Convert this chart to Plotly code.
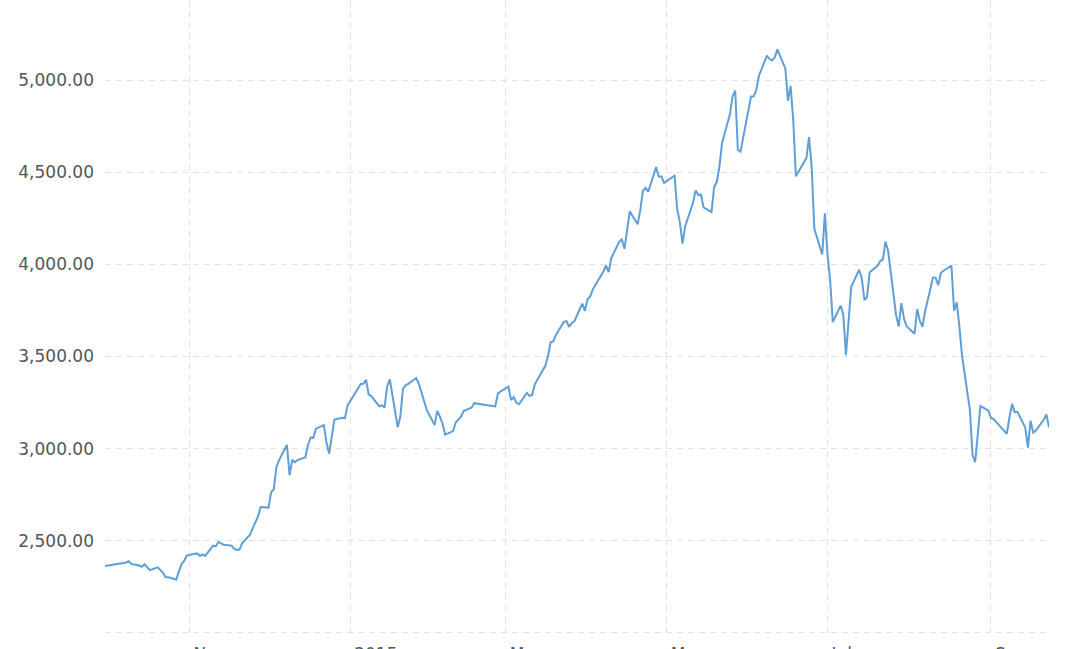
import plotly.graph_objects as go

dates = [
    "2014-09-30",
    "2014-10-08", "2014-10-09", "2014-10-10", "2014-10-13", "2014-10-14", "2014-10-15", "2014-10-16",
    "2014-10-17", "2014-10-20", "2014-10-21", "2014-10-22", "2014-10-23", "2014-10-24", "2014-10-27",
    "2014-10-28", "2014-10-29", "2014-10-30", "2014-10-31",
    "2014-11-03", "2014-11-04", "2014-11-05", "2014-11-06", "2014-11-07", "2014-11-10", "2014-11-11",
    "2014-11-12", "2014-11-13", "2014-11-14", "2014-11-17", "2014-11-18", "2014-11-19", "2014-11-20",
    "2014-11-21", "2014-11-24", "2014-11-25", "2014-11-26", "2014-11-27", "2014-11-28",
    "2014-12-01", "2014-12-02", "2014-12-03", "2014-12-04", "2014-12-05", "2014-12-08", "2014-12-09",
    "2014-12-10", "2014-12-11", "2014-12-12", "2014-12-15", "2014-12-16", "2014-12-17", "2014-12-18",
    "2014-12-19", "2014-12-22", "2014-12-23", "2014-12-24", "2014-12-25", "2014-12-26", "2014-12-29",
    "2014-12-30", "2014-12-31",
    "2015-01-05", "2015-01-06", "2015-01-07", "2015-01-08", "2015-01-09", "2015-01-12", "2015-01-13",
    "2015-01-14", "2015-01-15", "2015-01-16", "2015-01-19", "2015-01-20", "2015-01-21", "2015-01-22",
    "2015-01-23", "2015-01-26", "2015-01-27", "2015-01-28", "2015-01-29", "2015-01-30",
    "2015-02-02", "2015-02-03", "2015-02-04", "2015-02-05", "2015-02-06", "2015-02-09", "2015-02-10",
    "2015-02-11", "2015-02-12", "2015-02-13", "2015-02-16", "2015-02-17", "2015-02-25", "2015-02-26",
    "2015-02-27",
    "2015-03-02", "2015-03-03", "2015-03-04", "2015-03-05", "2015-03-06", "2015-03-09", "2015-03-10",
    "2015-03-11", "2015-03-12", "2015-03-13", "2015-03-16", "2015-03-17", "2015-03-18", "2015-03-19",
    "2015-03-20", "2015-03-23", "2015-03-24", "2015-03-25", "2015-03-26", "2015-03-27", "2015-03-30",
    "2015-03-31",
    "2015-04-01", "2015-04-02", "2015-04-03", "2015-04-07", "2015-04-08", "2015-04-09", "2015-04-10",
    "2015-04-13", "2015-04-14", "2015-04-15", "2015-04-16", "2015-04-17", "2015-04-20", "2015-04-21",
    "2015-04-22", "2015-04-23", "2015-04-24", "2015-04-27", "2015-04-28", "2015-04-29", "2015-04-30",
    "2015-05-04", "2015-05-05", "2015-05-06", "2015-05-07", "2015-05-08", "2015-05-11", "2015-05-12",
    "2015-05-13", "2015-05-14", "2015-05-15", "2015-05-18", "2015-05-19", "2015-05-20", "2015-05-21",
    "2015-05-22", "2015-05-25", "2015-05-26", "2015-05-27", "2015-05-28", "2015-05-29",
    "2015-06-01", "2015-06-02", "2015-06-03", "2015-06-04", "2015-06-05", "2015-06-08", "2015-06-09",
    "2015-06-10", "2015-06-11", "2015-06-12", "2015-06-15", "2015-06-16", "2015-06-17", "2015-06-18",
    "2015-06-19", "2015-06-23", "2015-06-24", "2015-06-25", "2015-06-26", "2015-06-29", "2015-06-30",
    "2015-07-01", "2015-07-02", "2015-07-03", "2015-07-06", "2015-07-07", "2015-07-08", "2015-07-09",
    "2015-07-10", "2015-07-13", "2015-07-14", "2015-07-15", "2015-07-16", "2015-07-17", "2015-07-20",
    "2015-07-21", "2015-07-22", "2015-07-23", "2015-07-24", "2015-07-27", "2015-07-28", "2015-07-29",
    "2015-07-30", "2015-07-31",
    "2015-08-03", "2015-08-04", "2015-08-05", "2015-08-06", "2015-08-07", "2015-08-10", "2015-08-11",
    "2015-08-12", "2015-08-13", "2015-08-14", "2015-08-17", "2015-08-18", "2015-08-19", "2015-08-20",
    "2015-08-21", "2015-08-24", "2015-08-25", "2015-08-26", "2015-08-27", "2015-08-28", "2015-08-31",
    "2015-09-01", "2015-09-02", "2015-09-07", "2015-09-08", "2015-09-09", "2015-09-10", "2015-09-11",
    "2015-09-14", "2015-09-15", "2015-09-16", "2015-09-17", "2015-09-18", "2015-09-21", "2015-09-22",
    "2015-09-23",
]

values = [
    2363.87,
    2382.79, 2389.37, 2374.54, 2366.01, 2359.48, 2373.02, 2356.50,
    2341.18, 2356.33, 2339.66, 2326.55, 2302.42, 2302.28, 2290.44,
    2337.87, 2373.03, 2391.08, 2420.18,
    2430.03, 2430.68, 2419.25, 2425.86, 2418.17, 2473.67, 2469.67,
    2494.48, 2485.61, 2478.82, 2474.01, 2456.37, 2450.99, 2452.66,
    2486.79, 2532.88, 2567.60, 2604.35, 2630.49, 2682.84,
    2680.16, 2763.55, 2779.53, 2899.47, 2937.65, 3020.26, 2856.27,
    2940.01, 2925.74, 2938.17, 2953.42, 3021.52, 3061.02, 3057.52,
    3108.60, 3127.45, 3032.61, 2972.53, 3072.54, 3157.60, 3168.02,
    3165.82, 3234.68,
    3350.52, 3351.45, 3373.95, 3293.46, 3285.41, 3229.32, 3235.30,
    3222.44, 3336.45, 3376.50, 3116.35, 3173.05, 3323.61, 3343.34,
    3351.76, 3383.18, 3352.96, 3305.74, 3262.30, 3210.36,
    3128.30, 3204.91, 3174.13, 3136.53, 3075.91, 3095.12, 3141.59,
    3157.70, 3173.42, 3203.83, 3222.09, 3246.91, 3228.84, 3298.36,
    3310.30,
    3336.28, 3263.05, 3279.53, 3248.48, 3241.19, 3302.41, 3286.07,
    3290.90, 3349.32, 3372.91, 3449.30, 3502.85, 3577.30, 3582.27,
    3617.32, 3687.73, 3691.41, 3660.73, 3682.09, 3691.10, 3786.57,
    3747.90,
    3810.29, 3825.78, 3863.93, 3961.38, 3994.81, 3957.53, 4034.31,
    4121.71, 4135.57, 4084.16, 4194.82, 4287.30, 4217.08, 4293.62,
    4398.49, 4414.51, 4393.69, 4527.40, 4476.21, 4476.62, 4441.66,
    4480.46, 4298.71, 4229.27, 4112.21, 4205.92, 4333.58, 4401.22,
    4375.76, 4378.31, 4308.69, 4283.49, 4417.55, 4446.29, 4529.42,
    4657.60, 4813.80, 4910.90, 4941.71, 4620.27, 4611.74,
    4828.74, 4910.53, 4909.98, 4947.10, 5023.10, 5131.88, 5113.53,
    5106.04, 5121.59, 5166.35, 5062.99, 4887.43, 4967.90, 4785.36,
    4478.36, 4576.49, 4690.15, 4527.78, 4192.87, 4053.03, 4277.22,
    4053.70, 3912.77, 3686.92, 3775.91, 3727.12, 3507.19, 3709.33,
    3877.80, 3970.39, 3924.49, 3805.70, 3823.18, 3957.35, 3992.11,
    4017.68, 4026.04, 4123.92, 4070.91, 3725.56, 3663.00, 3789.17,
    3705.77, 3663.73,
    3622.91, 3756.55, 3694.57, 3661.54, 3744.20, 3928.42, 3927.91,
    3886.32, 3954.56, 3965.33, 3993.67, 3748.16, 3794.11, 3664.29,
    3507.74, 3209.91, 2964.97, 2927.29, 3083.59, 3232.35, 3205.99,
    3166.62, 3160.17, 3080.42, 3170.45, 3243.09, 3197.89, 3200.23,
    3114.80, 3005.17, 3152.26, 3086.06, 3097.92, 3156.54, 3185.62,
    3115.89,
]

x_tick_dates = ["2014-11-01", "2015-01-01", "2015-03-01", "2015-05-01", "2015-07-01", "2015-09-01"]
x_tick_labels = ["Nov", "2015", "Mar", "May", "Jul", "Sep"]

y_tick_vals = [2000, 2500, 3000, 3500, 4000, 4500, 5000]
y_tick_labels = ["", "2,500.00", "3,000.00", "3,500.00", "4,000.00", "4,500.00", "5,000.00"]

fig = go.Figure()
fig.add_trace(go.Scatter(
    x=dates, y=values, mode="lines",
    line=dict(color="#5f9fd6", width=2),
    hoverinfo="x+y",
))

grid_color = "#e2e2e2"
fig.update_layout(
    width=1080, height=649,
    margin=dict(l=105, r=31, t=0, b=14, pad=0),
    paper_bgcolor="white", plot_bgcolor="white",
    showlegend=False,
    font=dict(family="DejaVu Sans", size=17, color="#555555"),
    xaxis=dict(
        type="date", automargin=False,
        range=[dates[0], dates[-1]],
        tickmode="array", tickvals=x_tick_dates, ticktext=x_tick_labels,
        showgrid=True, gridcolor=grid_color, griddash="6px,5px", gridwidth=1,
        zeroline=False, showline=False, ticks="",
        ticklabelposition="outside right", ticklabelshift=4, ticklabelstandoff=7,
        tickfont=dict(family="DejaVu Sans", size=17, color="#555555"),
    ),
    yaxis=dict(
        automargin=False,
        range=[1989.1, 5434],
        tickmode="array", tickvals=y_tick_vals, ticktext=y_tick_labels,
        showgrid=True, gridcolor=grid_color, griddash="6px,5px", gridwidth=1,
        zeroline=False, showline=False, ticks="",
        ticklabelstandoff=10,
        tickfont=dict(family="DejaVu Sans", size=17, color="#555555"),
    ),
)

fig.write_html(
    "out.html",
    config={"displayModeBar": False},
    post_script="document.body.style.margin='0';document.body.style.overflow='hidden';",
)
